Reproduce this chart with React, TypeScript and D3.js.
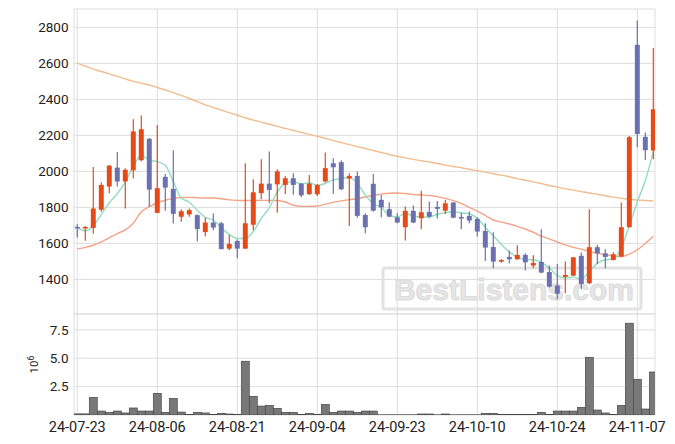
import React from "react";
import * as d3 from "d3";

const dates = [
  "2024-07-23","2024-07-24","2024-07-25","2024-07-26","2024-07-29","2024-07-30","2024-07-31","2024-08-01","2024-08-02","2024-08-05",
  "2024-08-06","2024-08-07","2024-08-08","2024-08-09","2024-08-12","2024-08-13","2024-08-14","2024-08-16","2024-08-19","2024-08-20",
  "2024-08-21","2024-08-22","2024-08-23","2024-08-26","2024-08-27","2024-08-28","2024-08-29","2024-08-30","2024-09-02","2024-09-03",
  "2024-09-04","2024-09-05","2024-09-06","2024-09-09","2024-09-10","2024-09-11","2024-09-12","2024-09-13","2024-09-19","2024-09-20",
  "2024-09-23","2024-09-24","2024-09-25","2024-09-26","2024-09-27","2024-09-30","2024-10-02","2024-10-04","2024-10-07","2024-10-08",
  "2024-10-10","2024-10-11","2024-10-14","2024-10-15","2024-10-16","2024-10-17","2024-10-18","2024-10-21","2024-10-22","2024-10-23",
  "2024-10-24","2024-10-25","2024-10-28","2024-10-29","2024-10-30","2024-10-31","2024-11-01","2024-11-04","2024-11-05","2024-11-06",
  "2024-11-07","2024-11-08","2024-11-11",
];

const open = [
  1692,1683,1686,1787,1916,2021,1944,2006,2062,2181,
  1770,1970,1903,1748,1761,1757,1663,1716,1712,1571,
  1614,1571,1704,1879,1932,1928,1925,1962,1932,1873,
  1873,1944,2045,2051,1960,1975,1758,1931,1842,1790,
  1745,1690,1781,1740,1775,1803,1782,1827,1747,1753,
  1736,1669,1580,1499,1525,1512,1536,1477,1497,1441,
  1366,1414,1421,1531,1379,1579,1545,1508,1527,1690,
  2703,2192,2116,
];
const high = [
  1706,1695,2024,1940,2035,2108,2018,2290,2310,2185,
  2258,1985,2118,1790,1794,1762,1742,1766,1720,1647,
  1623,2045,1956,2068,2110,2012,1975,1990,1935,1980,
  1930,2105,2073,2062,1990,2000,1767,1986,1869,1829,
  1767,1805,1810,1892,1833,1836,1842,1830,1771,1777,
  1745,1712,1662,1512,1560,1590,1545,1534,1679,1477,
  1486,1499,1525,1549,1790,1592,1568,1551,1827,2197,
  2838,2216,2685,
];
const low = [
  1633,1615,1654,1776,1879,1916,1794,1960,2056,1804,
  1768,1781,1710,1720,1748,1611,1639,1673,1568,1562,
  1517,1571,1675,1845,1823,1771,1875,1870,1856,1870,
  1864,1938,1875,1895,1697,1743,1657,1776,1745,1745,
  1712,1616,1712,1679,1740,1738,1764,1740,1679,1712,
  1638,1503,1462,1493,1490,1510,1449,1462,1435,1355,
  1290,1323,1419,1345,1375,1486,1462,1505,1525,1688,
  2134,2064,2068,
];
const close = [
  1686,1692,1794,1925,2032,1944,2009,2222,2234,1899,
  1907,1910,1764,1779,1785,1680,1716,1688,1568,1597,
  1571,1712,1884,1932,1897,2000,1962,1925,1867,1932,
  1925,2018,2023,1901,1975,1753,1690,1782,1800,1749,
  1716,1781,1716,1773,1749,1792,1823,1743,1738,1727,
  1666,1577,1499,1508,1512,1536,1495,1492,1438,1360,
  1321,1425,1523,1375,1579,1545,1525,1540,1690,2190,
  2208,2118,2345,
];

// volume, in millions
const volume = [
  0.10,0.10,1.56,0.35,0.24,0.35,0.18,0.62,0.35,0.35,
  1.91,0.24,1.47,0.26,0.06,0.24,0.18,0.06,0.15,0.09,
  0.06,4.74,1.65,0.79,0.85,0.59,0.24,0.24,0.06,0.15,
  0.06,0.94,0.24,0.35,0.35,0.24,0.35,0.35,0.02,0.02,
  0.02,0.02,0.02,0.09,0.09,0.02,0.09,0.02,0.02,0.02,
  0.02,0.15,0.15,0.06,0.06,0.06,0.06,0.06,0.24,0.06,
  0.35,0.35,0.35,0.68,5.09,0.44,0.18,0.06,0.85,8.09,
  3.15,0.53,3.79,
];

// short moving average (green)
const maShort = [
  1688,1670,1698,1760,1826,1877,1941,2026,2088,2062,
  2054,2034,1943,1852,1829,1784,1745,1730,1687,1650,
  1628,1627,1666,1739,1799,1885,1935,1943,1930,1937,
  1922,1933,1953,1960,1968,1934,1868,1820,1800,1755,
  1747,1766,1752,1747,1747,1762,1771,1776,1769,1765,
  1739,1690,1641,1595,1552,1526,1510,1509,1495,1464,
  1421,1407,1413,1401,1445,1489,1509,1513,1576,1698,
  1831,1949,2110,
];
// medium moving average (salmon)
const maMid = [
  1570,1578,1590,1608,1632,1655,1675,1712,1776,1804,
  1826,1840,1850,1855,1856,1854,1852,1852,1848,1842,
  1839,1838,1838,1839,1839,1838,1830,1812,1806,1806,
  1808,1818,1828,1836,1843,1848,1858,1866,1874,1879,
  1880,1877,1872,1869,1866,1860,1850,1838,1822,1800,
  1780,1755,1730,1718,1708,1695,1680,1662,1640,1625,
  1608,1592,1578,1568,1556,1545,1538,1530,1527,1540,
  1565,1600,1640,
];
// long moving average (light orange)
const maLong = [
  2601,2585,2568,2555,2542,2528,2514,2500,2490,2480,
  2466,2452,2438,2422,2405,2388,2370,2355,2340,2326,
  2312,2298,2285,2274,2262,2250,2239,2228,2217,2206,
  2195,2184,2171,2160,2149,2138,2127,2116,2105,2094,
  2084,2075,2067,2059,2052,2044,2035,2027,2020,2012,
  2004,1996,1987,1979,1970,1960,1951,1942,1932,1922,
  1913,1904,1896,1888,1880,1873,1865,1857,1850,1845,
  1841,1838,1836,
];

const priceTicks = [1400, 1600, 1800, 2000, 2200, 2400, 2600, 2800];
const volumeTicks = [2.5, 5.0, 7.5];
const dateTickIdx = [0, 10, 20, 30, 40, 50, 60, 70];
const watermarkText = "BestListens.com";

const W = 675, H = 444;
const LEFT = 74, RIGHT = 655;
const MAIN_TOP = 9, MAIN_BOT = 314, VOL_BOT = 415;

const UP = "#e64a19";
const DOWN = "#6b70b1";
const GRID = "#dddddd";
const FONT = "Roboto, 'Noto Sans', sans-serif";

export default function App() {
  const n = dates.length;
  const x = d3.scaleLinear().domain([-0.41, n - 1 + 0.21]).range([LEFT, RIGHT]);
  const y = d3.scaleLinear().domain([1208, 2902]).range([MAIN_BOT, MAIN_TOP]);
  const yv = d3.scaleLinear().domain([0, 8.9]).range([VOL_BOT, MAIN_BOT]);
  const step = x(1) - x(0);
  const bodyW = step * 0.62;

  const idx = d3.range(n);
  const line = (arr: number[]) =>
    d3.line<number>().x((i) => x(i)).y((i) => y(arr[i])).curve(d3.curveMonotoneX)(idx) || "";

  const fmtDate = (s: string) => s.slice(2);

  return (
    <svg width={W} height={H} style={{ position: "absolute", left: 0, top: 0, background: "#fff" }}>
      <defs>
        <clipPath id="mainClip">
          <rect x={LEFT} y={MAIN_TOP} width={RIGHT - LEFT} height={MAIN_BOT - MAIN_TOP} />
        </clipPath>
        <clipPath id="volClip">
          <rect x={LEFT} y={MAIN_BOT} width={RIGHT - LEFT} height={VOL_BOT - MAIN_BOT} />
        </clipPath>
      </defs>

      {/* grid */}
      <g stroke={GRID} strokeWidth={1} fill="none">
        {priceTicks.map((t) => (
          <line key={"pg" + t} x1={LEFT} x2={RIGHT} y1={y(t)} y2={y(t)} />
        ))}
        {volumeTicks.map((t) => (
          <line key={"vg" + t} x1={LEFT} x2={RIGHT} y1={yv(t)} y2={yv(t)} />
        ))}
        {dateTickIdx.map((i) => (
          <line key={"xg" + i} x1={x(i)} x2={x(i)} y1={MAIN_TOP} y2={VOL_BOT} />
        ))}
        <rect x={LEFT} y={MAIN_TOP} width={RIGHT - LEFT} height={MAIN_BOT - MAIN_TOP} />
        <rect x={LEFT} y={MAIN_BOT} width={RIGHT - LEFT} height={VOL_BOT - MAIN_BOT} />
      </g>

      {/* watermark */}
      <g>
        <rect x={383} y={268} width={258} height={41} rx={2} fill="none" stroke="#e2e2e2" strokeWidth={3} />
        <text
          x={514}
          y={300}
          textAnchor="middle"
          fontFamily="'Liberation Sans', Arial, sans-serif"
          fontWeight="bold"
          fontSize={30}
          fill="#e6e6e6"
          stroke="#dadada"
          strokeWidth={1}
        >
          {watermarkText}
        </text>
      </g>

      {/* moving averages */}
      <g clipPath="url(#mainClip)" fill="none">
        <path d={line(maLong)} stroke="#f2bd8e" strokeWidth={1.4} />
        <path d={line(maMid)} stroke="#f3a486" strokeWidth={1.4} />
        <path d={line(maShort)} stroke="#93dcc2" strokeWidth={1.4} />
      </g>

      {/* candles */}
      <g clipPath="url(#mainClip)">
        {idx.map((i) => {
          const up = close[i] >= open[i];
          const c = up ? UP : DOWN;
          const top = y(Math.max(open[i], close[i]));
          const bot = y(Math.min(open[i], close[i]));
          return (
            <g key={"c" + i}>
              <line x1={x(i)} x2={x(i)} y1={y(high[i])} y2={y(low[i])} stroke={c} strokeWidth={1.2} />
              <rect x={x(i) - bodyW / 2} y={top} width={bodyW} height={Math.max(1.5, bot - top)} fill={c} />
            </g>
          );
        })}
      </g>

      {/* volume */}
      <g clipPath="url(#volClip)">
        {idx.map((i) => (
          <rect
            key={"v" + i}
            x={x(i) - step / 2}
            y={yv(volume[i])}
            width={step}
            height={yv(0) - yv(volume[i])}
            fill="#787878"
            stroke="#3c3c3c"
            strokeWidth={0.6}
          />
        ))}
      </g>

      {/* y tick labels */}
      <g fontFamily={FONT} fontSize={13.5} fill="#222" textAnchor="end">
        {priceTicks.map((t) => (
          <text key={"pt" + t} x={68.5} y={y(t)} dy="0.36em">
            {t}
          </text>
        ))}
        {volumeTicks.map((t) => (
          <text key={"vt" + t} x={68.5} y={yv(t)} dy="0.36em">
            {d3.format(".1f")(t)}
          </text>
        ))}
      </g>

      {/* x tick labels */}
      <g fontFamily={FONT} fontSize={14.5} fill="#222" textAnchor="middle">
        {dateTickIdx.map((i) => (
          <text key={"xt" + i} x={x(i)} y={432}>
            {fmtDate(dates[i])}
          </text>
        ))}
      </g>

      {/* volume unit label */}
      <text transform="translate(37.5,373.5) rotate(-90)" fontFamily={FONT} fontSize={11.5} fill="#222">
        10
        <tspan dy={-4} fontSize={8.5}>6</tspan>
      </text>
    </svg>
  );
}
